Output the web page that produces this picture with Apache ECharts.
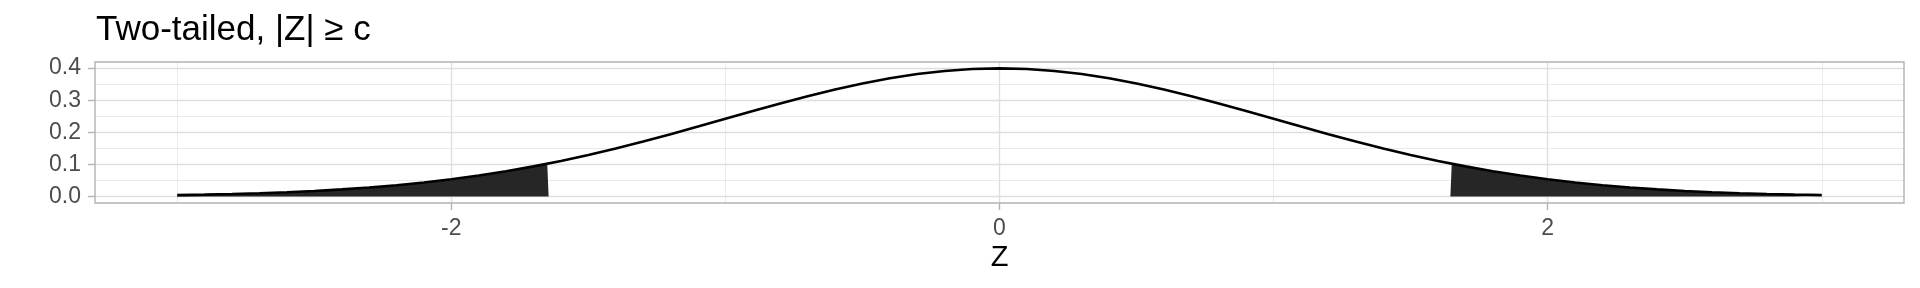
<!DOCTYPE html>
<html>
<head>
<meta charset="utf-8">
<script src="https://cdn.jsdelivr.net/npm/echarts@6/dist/echarts.min.js"></script>
<style>
  html, body { margin: 0; padding: 0; background: #fff; }
  #chart { width: 1920px; height: 288px; }
</style>
</head>
<body>
<div id="chart"></div>
<script>
// ---- data ----
const zValues = [-3.0,-2.9,-2.8,-2.7,-2.6,-2.5,-2.4,-2.3,-2.2,-2.1,-2.0,-1.9,-1.8,-1.7,-1.6,-1.5,-1.4,-1.3,-1.2,-1.1,-1.0,-0.9,-0.8,-0.7,-0.6,-0.5,-0.4,-0.3,-0.2,-0.1,0.0,0.1,0.2,0.3,0.4,0.5,0.6,0.7,0.8,0.9,1.0,1.1,1.2,1.3,1.4,1.5,1.6,1.7,1.8,1.9,2.0,2.1,2.2,2.3,2.4,2.5,2.6,2.7,2.8,2.9,3.0];
const density = [0.0044,0.0060,0.0079,0.0104,0.0136,0.0175,0.0224,0.0283,0.0355,0.0440,0.0540,0.0656,0.0790,0.0940,0.1109,0.1295,0.1497,0.1714,0.1942,0.2179,0.2420,0.2661,0.2897,0.3123,0.3332,0.3521,0.3683,0.3814,0.3910,0.3970,0.3989,0.3970,0.3910,0.3814,0.3683,0.3521,0.3332,0.3123,0.2897,0.2661,0.2420,0.2179,0.1942,0.1714,0.1497,0.1295,0.1109,0.0940,0.0790,0.0656,0.0540,0.0440,0.0355,0.0283,0.0224,0.0175,0.0136,0.0104,0.0079,0.0060,0.0044];
const leftTailZ = [-3.0,-2.9,-2.8,-2.7,-2.6,-2.5,-2.4,-2.3,-2.2,-2.1,-2.0,-1.9,-1.8,-1.7,-1.65,-1.645];
const leftTailY = [0.0044,0.0060,0.0079,0.0104,0.0136,0.0175,0.0224,0.0283,0.0355,0.0440,0.0540,0.0656,0.0790,0.0940,0.1023,0.0];
const rightTailZ = [1.645,1.65,1.7,1.8,1.9,2.0,2.1,2.2,2.3,2.4,2.5,2.6,2.7,2.8,2.9,3.0];
const rightTailY = [0.0,0.1023,0.0940,0.0790,0.0656,0.0540,0.0440,0.0355,0.0283,0.0224,0.0175,0.0136,0.0104,0.0079,0.0060,0.0044];
const xMajorTicks = [-2, 0, 2];
const xMinorTicks = [-3, -1, 1, 3];
const yMajorTicks = [0, 0.1, 0.2, 0.3, 0.4];
const yMinorTicks = [0.05, 0.15, 0.25, 0.35];
const titleText = 'Two-tailed, |Z| \u2265 c';
const xTitle = 'Z';

// ---- chart ----
const zip = (a, b) => a.map((v, i) => [v, b[i]]);
const FONT = '"Liberation Sans", Arial, Helvetica, sans-serif';
const gridMajor = { color: '#dedede', width: 1.4, type: 'solid' };
const gridMinor = { color: '#e6e6e6', width: 0.8, type: 'solid' };

const gridLines = []
  .concat(xMinorTicks.map(v => ({ xAxis: v, lineStyle: gridMinor })))
  .concat(yMinorTicks.map(v => ({ yAxis: v, lineStyle: gridMinor })))
  .concat(xMajorTicks.map(v => ({ xAxis: v, lineStyle: gridMajor })))
  .concat(yMajorTicks.map(v => ({ yAxis: v, lineStyle: gridMajor })));

const chart = echarts.init(document.getElementById('chart'), null, { renderer: 'canvas' });
chart.setOption({
  animation: false,
  backgroundColor: '#ffffff',
  title: {
    text: titleText,
    left: 91,
    top: 8,
    textStyle: { fontFamily: FONT, fontSize: 35, fontWeight: 'normal', color: '#000000' }
  },
  grid: {
    left: 95, right: 16, top: 62, bottom: 85,
    show: true, borderColor: '#b3b3b3', borderWidth: 1.4, backgroundColor: 'transparent', z: 5
  },
  xAxis: {
    type: 'value',
    min: -3.3, max: 3.3,
    name: xTitle,
    nameLocation: 'middle',
    nameGap: 40,
    nameTextStyle: { fontFamily: FONT, fontSize: 29, color: '#000000' },
    axisLine: { show: false, onZero: false },
    axisTick: { show: true, length: 7, lineStyle: { color: '#b3b3b3', width: 1.4 }, customValues: xMajorTicks },
    axisLabel: { fontFamily: FONT, fontSize: 23, color: '#4d4d4d', margin: 14, customValues: xMajorTicks,
      formatter: v => String(v) },
    splitLine: { show: false },
    minorSplitLine: { show: false }
  },
  yAxis: {
    type: 'value',
    min: -0.01995, max: 0.4188,
    axisLine: { show: false, onZero: false },
    axisTick: { show: true, length: 7, lineStyle: { color: '#b3b3b3', width: 1.4 }, customValues: yMajorTicks },
    axisLabel: { fontFamily: FONT, fontSize: 23, color: '#4d4d4d', margin: 14, customValues: yMajorTicks,
      formatter: v => v.toFixed(1) },
    splitLine: { show: false }
  },
  series: [
    {
      type: 'line', data: [], z: 0, silent: true,
      markLine: { silent: true, symbol: ['none', 'none'], label: { show: false }, animation: false, data: gridLines, z: 0 }
    },
    {
      type: 'line', data: zip(leftTailZ, leftTailY), z: 2, silent: true,
      showSymbol: false, lineStyle: { width: 0, opacity: 0 },
      areaStyle: { color: '#262626', opacity: 1 }
    },
    {
      type: 'line', data: zip(rightTailZ, rightTailY), z: 2, silent: true,
      showSymbol: false, lineStyle: { width: 0, opacity: 0 },
      areaStyle: { color: '#262626', opacity: 1 }
    },
    {
      type: 'line', data: zip(zValues, density), z: 3, silent: true,
      showSymbol: false, lineStyle: { color: '#000000', width: 2.6 }
    }
  ]
});
</script>
</body>
</html>
